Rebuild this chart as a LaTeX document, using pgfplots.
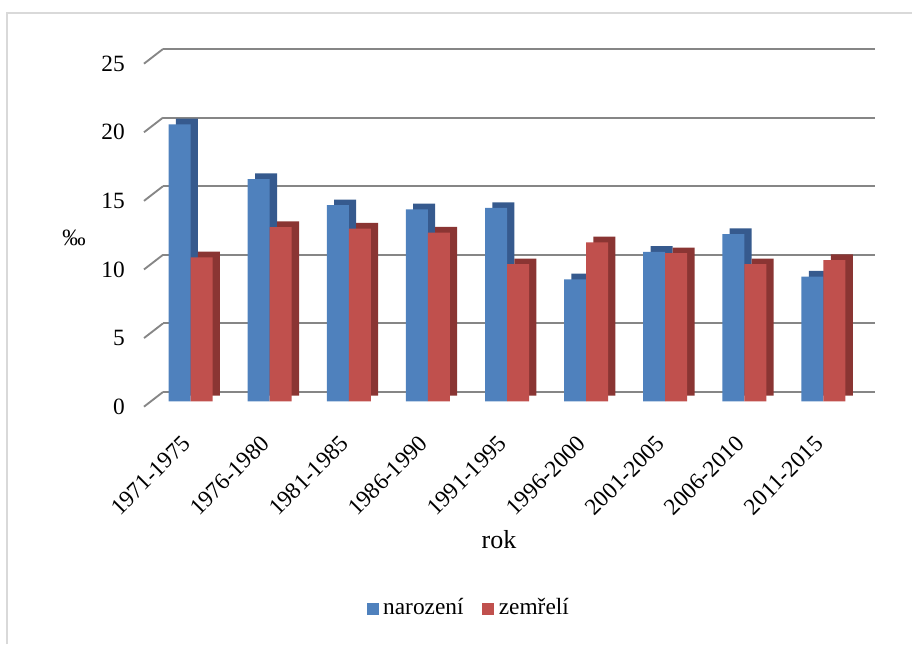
\documentclass[border=0pt]{standalone}
\usepackage{fontspec}
\setmainfont{Liberation Serif}
\usepackage{pgfplots}
\pgfplotsset{compat=1.18}

\definecolor{blueF}{HTML}{4F81BD}
\definecolor{blueS}{HTML}{365A8E}
\definecolor{redF}{HTML}{C0504D}
\definecolor{redS}{HTML}{8A3533}
\definecolor{gridc}{HTML}{868686}
\definecolor{framec}{HTML}{D9D9D9}

% 1 px of the reference = 0.75pt
\begin{document}
\fontsize{17.5}{21}\selectfont
\begin{tikzpicture}
\useasboundingbox (0,0) rectangle (684pt,483pt);
\draw[framec, line width=1.5pt] (5.6pt,0) -- (5.6pt,473.6pt) -- (684pt,473.6pt);
\begin{axis}[
    at={(122.25pt,189pt)}, anchor=south west,
    scale only axis,
    width=534pt, height=257.25pt,
    clip=false,
    xmin=-0.5, xmax=8.5,
    ymin=0, ymax=25,
    ytick={0,5,10,15,20,25},
    xtick={0,...,8},
    xticklabels={1971-1975,1976-1980,1981-1985,1986-1990,1991-1995,1996-2000,2001-2005,2006-2010,2011-2015},
    axis line style={draw=none},
    major tick length=0pt,
    ymajorgrids=true,
    grid style={gridc, line width=1.4pt},
    /pgf/number format/assume math mode=true,
    yticklabel style={xshift=-22.6pt, yshift=-11pt},
    xticklabel style={rotate=45, anchor=north east, xshift=-28pt, yshift=-4.7pt},
    xlabel={rok},
    xlabel style={at={(axis description cs:0.5,0)}, anchor=center, xshift=-15pt, yshift=-111pt, font=\fontsize{19.5}{23}\selectfont},
    ylabel={‰},
    ylabel style={rotate=-90, at={(axis description cs:0,0.5)}, anchor=center, xshift=-66.75pt, yshift=-13.1pt},
    legend style={at={(axis description cs:0.4298,-0.6297)}, anchor=center, draw=none, fill=none,
      legend columns=2, /tikz/every even column/.append style={column sep=12pt},
      /tikz/every odd column/.append style={column sep=1.5pt}},
    ybar, bar width=16.5pt,
  ]
  % side/top faces (shifted copies)
  \addplot[fill=blueS, draw=none, bar shift=-8.25pt, xshift=-3.5pt, yshift=-2.8pt, forget plot]
    coordinates {(0,20.2) (1,16.2) (2,14.3) (3,14.0) (4,14.1) (5,8.9) (6,10.9) (7,12.2) (8,9.1)};
  \addplot[fill=blueF, draw=none, bar shift=-8.25pt, xshift=-9pt, yshift=-7.05pt,
    legend image code/.code={\fill[blueF] (0pt,1.5pt) rectangle (9pt,10.5pt);}]
    coordinates {(0,20.2) (1,16.2) (2,14.3) (3,14.0) (4,14.1) (5,8.9) (6,10.9) (7,12.2) (8,9.1)};
  \addlegendentry{narození}
  \addplot[fill=redS, draw=none, bar shift=8.25pt, xshift=-3.5pt, yshift=-2.8pt, forget plot]
    coordinates {(0,10.5) (1,12.7) (2,12.6) (3,12.3) (4,10.0) (5,11.6) (6,10.8) (7,10.0) (8,10.3)};
  \addplot[fill=redF, draw=none, bar shift=8.25pt, xshift=-9pt, yshift=-7.05pt,
    legend image code/.code={\fill[redF] (0pt,1.5pt) rectangle (9pt,10.5pt);}]
    coordinates {(0,10.5) (1,12.7) (2,12.6) (3,12.3) (4,10.0) (5,11.6) (6,10.8) (7,10.0) (8,10.3)};
  \addlegendentry{zemřelí}
  \pgfplotsinvokeforeach{0,5,10,15,20,25}{
    \draw[gridc, line width=1.4pt] (axis cs:-0.5,#1) -- ++(-14.25pt,-11pt);
  }
\end{axis}
\end{tikzpicture}
\end{document}
